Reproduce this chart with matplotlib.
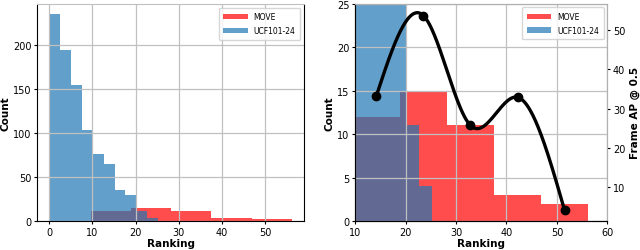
import numpy as np
import matplotlib
matplotlib.use("Agg")
import matplotlib.pyplot as plt

# histogram counts
ucf_counts = [235, 194, 155, 104, 76, 65, 35, 30, 11, 4]
ucf_range = (0.0, 25.2)
move_counts = [12, 15, 11, 3, 2]
move_range = (9.55, 56.17)

# frame AP @ 0.5 per MOVE ranking bin
move_ap = [33.3, 53.7, 25.7, 32.9, 4.1]

ucf_edges = np.linspace(ucf_range[0], ucf_range[1], len(ucf_counts) + 1)
move_edges = np.linspace(move_range[0], move_range[1], len(move_counts) + 1)
move_centers = (move_edges[:-1] + move_edges[1:]) / 2


def natural_spline(x, y, xs):
    # piecewise cubic, C2, zero curvature at both ends
    x = np.asarray(x, float)
    y = np.asarray(y, float)
    n = len(x) - 1
    A = np.zeros((4 * n, 4 * n))
    b = np.zeros(4 * n)
    r = 0
    for i in range(n):
        h = x[i + 1] - x[i]
        A[r, 4 * i] = 1; b[r] = y[i]; r += 1
        A[r, 4 * i:4 * i + 4] = [1, h, h ** 2, h ** 3]; b[r] = y[i + 1]; r += 1
    for i in range(n - 1):
        h = x[i + 1] - x[i]
        A[r, 4 * i:4 * i + 4] = [0, 1, 2 * h, 3 * h ** 2]
        A[r, 4 * (i + 1) + 1] = -1; r += 1
        A[r, 4 * i:4 * i + 4] = [0, 0, 2, 6 * h]
        A[r, 4 * (i + 1) + 2] = -2; r += 1
    h = x[n] - x[n - 1]
    A[r, 2] = 1; r += 1
    A[r, 4 * (n - 1) + 2] = 2; A[r, 4 * (n - 1) + 3] = 6 * h; r += 1
    c = np.linalg.solve(A, b).reshape(n, 4)
    idx = np.clip(np.searchsorted(x, xs) - 1, 0, n - 1)
    t = xs - x[idx]
    return c[idx, 0] + c[idx, 1] * t + c[idx, 2] * t ** 2 + c[idx, 3] * t ** 3


plt.rcParams['font.family'] = 'DejaVu Sans'
plt.rcParams['xtick.labelsize'] = 7
plt.rcParams['ytick.labelsize'] = 7

fig = plt.figure(figsize=(6.4, 2.51), dpi=100)
ax1 = fig.add_axes([0.058, 0.115, 0.417, 0.865])
ax2 = fig.add_axes([0.555, 0.115, 0.394, 0.867])


def draw_hists(ax):
    ax.hist(move_edges[:-1], bins=move_edges, weights=move_counts,
            color="red", alpha=0.7, label="MOVE")
    ax.hist(ucf_edges[:-1], bins=ucf_edges, weights=ucf_counts,
            color="tab:blue", alpha=0.7, label="UCF101-24")
    ax.grid(True, color="#c0c0c0", linewidth=0.9)
    ax.set_xlabel("Ranking", fontsize=7.5, fontweight="bold", labelpad=1)
    ax.set_ylabel("Count", fontsize=7.5, fontweight="bold", labelpad=2)
    ax.tick_params(length=2.5, pad=1.5)
    ax.legend(loc="upper right", fontsize=5.5, handlelength=3.2,
              borderpad=0.6, labelspacing=0.6, framealpha=0.8)


#### left: full histograms
draw_hists(ax1)
ax1.set_yticks([0, 50, 100, 150, 200])
ax1.spines['top'].set_color("#c0c0c0")

#### right: zoomed in, with AP curve
draw_hists(ax2)
ax2.set_xlim(10, 60)
ax2.set_ylim(0, 25)
for s in ['top', 'right']:
    ax2.spines[s].set_color("#b0b0b0")

ax3 = ax2.twinx()
xs = np.linspace(move_centers[0], move_centers[-1], 300)
ax3.plot(xs, natural_spline(move_centers, move_ap, xs), color="black", linewidth=2.4)
ax3.plot(move_centers, move_ap, "o", color="black", markersize=6)
ax3.set_ylim(1.3, 56.8)
ax3.set_yticks([10, 20, 30, 40, 50])
ax3.set_ylabel("Frame AP @ 0.5", fontsize=7.5, fontweight="bold", labelpad=3)
ax3.tick_params(length=2.5, pad=1.5)
for s in ['top', 'right']:
    ax3.spines[s].set_color("#b0b0b0")

fig.savefig("out.png", dpi=100)
